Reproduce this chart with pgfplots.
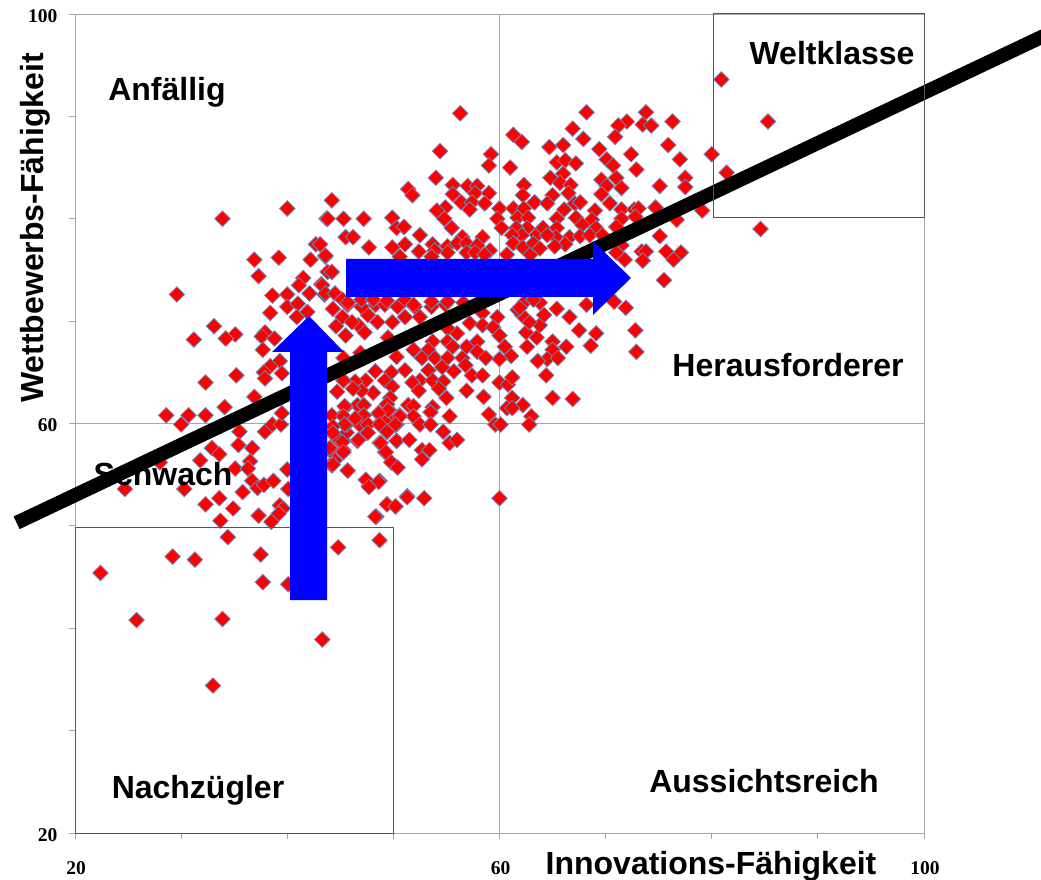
\documentclass[border=0pt]{standalone}
\usepackage{fontspec}
\setmainfont{Liberation Sans}
\newfontfamily\tickfont{Liberation Serif}
\usepackage{pgfplots}
\pgfplotsset{compat=1.18}
\usepackage{pgfplotstable}
\definecolor{axgray}{HTML}{A6A6A6}
\definecolor{boxgray}{HTML}{555555}
\definecolor{edgeblue}{HTML}{7484B8}
\pgfplotstableread{
x y
33.9 80.0
40.0 81.0
43.7 80.0
42.7 77.5
36.9 76.0
39.2 76.2
42.2 76.0
43.6 76.3
37.3 74.4
43.8 74.8
41.5 74.2
41.1 73.5
43.2 73.6
29.6 72.6
38.6 72.5
40.0 72.6
42.1 72.7
43.5 72.6
40.0 71.4
41.0 71.7
38.4 70.8
40.9 70.4
41.9 70.9
33.1 69.5
35.1 68.7
34.2 68.3
31.2 68.2
37.9 68.9
37.6 68.5
38.8 68.3
37.7 67.2
39.3 66.1
38.4 65.6
35.2 64.7
37.8 65.0
37.9 64.4
39.5 64.9
32.3 64.0
36.9 62.6
28.6 60.8
30.7 60.8
32.3 60.8
30.0 59.9
34.1 61.6
35.5 59.2
35.4 57.9
32.9 57.6
33.6 57.0
36.7 57.6
31.8 56.4
36.5 56.3
35.1 55.6
36.3 55.6
37.9 59.2
38.6 59.9
39.4 59.9
39.5 61.0
40.0 55.5
36.7 54.4
37.2 53.7
37.8 54.0
38.7 54.4
35.8 53.3
40.1 53.6
30.3 53.6
24.7 53.6
28.0 56.2
33.6 52.7
32.3 52.1
34.9 51.7
39.3 52.0
39.6 51.7
39.2 51.2
37.3 51.0
38.5 50.4
33.7 50.5
34.4 48.9
37.5 47.2
29.2 47.0
31.3 46.7
22.4 45.4
37.7 44.5
40.1 44.3
25.8 40.8
33.9 40.9
43.3 38.9
33.0 34.4
44.8 47.9
48.7 48.6
48.4 50.9
49.4 52.1
50.2 51.9
51.3 52.9
45.7 55.4
47.4 54.5
47.7 53.9
48.7 54.4
44.2 55.9
44.5 56.4
50.4 55.7
49.8 56.2
49.2 57.2
48.7 58.1
50.3 58.3
46.6 58.3
45.3 57.4
45.3 58.3
44.8 58.4
44.2 59.1
44.0 57.4
47.5 59.1
45.6 59.1
45.6 59.9
47.5 60.0
46.8 59.9
47.2 60.8
47.2 61.8
46.6 61.8
45.5 61.6
45.2 60.8
44.2 60.8
48.7 60.0
48.6 61.0
49.4 61.8
49.4 60.6
49.9 61.0
50.6 60.8
50.3 59.9
49.4 59.2
51.4 61.8
45.7 71.6
44.3 71.2
45.2 70.4
47.6 70.6
47.0 71.4
48.3 71.6
49.2 71.6
48.5 69.9
46.7 69.6
46.1 69.9
44.6 69.5
45.5 68.6
47.3 68.9
49.9 69.9
51.1 70.4
52.0 71.4
50.4 71.4
52.5 70.4
53.6 71.4
54.9 71.6
56.6 71.8
58.4 70.8
59.8 70.4
57.2 69.8
58.4 69.6
59.4 69.4
60.0 68.6
56.0 68.8
55.1 69.3
49.5 68.4
55.1 68.0
57.9 68.0
56.9 67.5
57.9 67.0
60.5 67.5
61.1 66.6
60.0 66.3
58.7 66.4
56.5 66.4
55.6 67.5
53.7 68.0
53.3 67.2
51.9 67.2
52.7 66.4
53.9 66.4
55.1 66.4
50.3 66.5
46.9 66.9
45.3 66.4
51.1 65.2
49.8 65.0
48.3 65.1
53.3 65.2
54.6 65.5
55.7 65.1
56.8 65.7
57.4 64.7
58.4 64.7
49.2 64.2
52.5 64.2
51.8 64.0
53.7 64.2
54.7 64.1
47.4 64.2
46.4 64.1
45.3 64.2
49.9 63.6
52.4 63.2
54.3 63.4
48.1 63.0
47.0 63.2
46.2 63.4
44.7 63.1
56.9 63.2
58.5 62.6
55.0 62.5
49.7 62.5
60.0 64.0
60.8 63.8
61.2 64.5
61.2 62.5
62.2 61.8
60.7 61.5
61.2 61.5
63.0 60.7
62.8 59.9
59.0 60.9
59.6 59.9
60.1 59.9
55.3 60.7
53.7 61.6
53.5 61.1
51.9 61.7
51.9 60.7
50.6 60.7
52.5 59.9
53.5 59.9
49.4 61.9
49.5 61.3
47.2 61.8
45.4 61.7
47.2 60.8
48.6 61.0
45.3 60.7
46.4 60.5
47.6 59.9
48.7 59.9
50.2 59.9
45.4 59.9
49.4 59.2
47.6 59.1
46.7 58.4
44.3 59.7
44.3 59.1
45.2 58.2
48.8 58.1
50.3 58.3
51.5 58.4
49.3 57.2
45.3 57.2
44.0 57.6
44.3 56.0
45.7 55.4
54.7 59.2
55.3 58.1
56.0 58.4
52.7 57.4
53.4 57.4
52.7 56.5
49.8 56.2
50.4 55.7
47.4 54.5
48.6 54.3
47.7 53.8
51.3 52.8
52.9 52.7
49.4 52.1
50.2 51.9
48.3 50.9
60.0 52.7
62.6 67.5
63.5 68.4
62.5 68.9
63.8 69.6
62.8 69.9
62.1 70.6
61.7 71.1
64.2 70.6
65.4 71.2
66.6 70.4
67.5 69.1
69.1 68.8
68.6 67.6
66.3 67.5
65.0 68.0
65.0 67.2
64.5 66.3
63.6 66.1
65.5 66.4
64.4 64.7
65.0 62.5
66.9 62.4
72.8 69.1
72.9 67.0
68.2 71.6
70.8 71.9
71.9 71.3
63.8 71.8
62.4 71.9
56.3 90.3
61.3 88.2
62.1 87.5
54.4 86.6
59.2 86.3
59.0 85.2
61.0 85.0
54.0 84.0
55.6 83.3
57.0 83.2
57.9 83.2
62.3 83.3
51.4 82.9
51.8 82.3
55.6 82.4
57.7 82.5
59.0 82.5
62.2 82.3
63.3 81.6
44.2 81.8
56.4 81.6
57.4 81.6
58.6 81.5
57.2 80.9
54.9 81.1
54.1 80.8
54.8 80.0
60.0 81.0
61.3 81.0
62.3 81.0
43.8 80.0
45.3 80.0
47.2 80.0
49.9 80.1
59.8 80.0
61.7 80.1
62.7 80.1
50.3 79.1
51.0 79.2
55.5 79.1
60.2 79.1
62.6 79.1
61.6 79.1
45.5 78.2
46.2 78.2
52.5 78.4
56.5 78.2
58.4 78.2
62.1 78.4
61.2 78.4
63.5 78.4
47.7 77.2
49.9 77.2
51.1 77.5
53.7 77.5
52.4 76.8
55.1 77.3
56.0 77.6
56.9 77.6
57.9 77.4
59.1 76.9
55.1 76.7
53.9 76.9
56.9 76.7
57.7 76.7
58.6 76.5
61.3 77.6
63.2 77.6
62.2 77.2
43.6 76.4
43.1 77.5
44.2 74.8
60.7 76.5
62.9 76.5
50.6 76.3
53.6 76.3
43.3 73.5
43.6 72.7
44.5 72.7
45.2 72.1
45.7 71.8
47.0 72.1
48.1 72.1
49.4 72.0
51.1 72.1
51.9 71.6
53.6 71.9
55.1 71.9
61.9 71.3
63.2 72.1
80.9 93.6
68.2 90.4
73.8 90.4
85.3 89.5
76.3 89.5
72.0 89.5
71.2 89.1
73.5 89.2
74.3 89.1
66.9 88.8
67.9 87.8
70.9 88.0
64.7 87.0
66.0 87.2
69.4 86.8
75.9 87.2
72.4 86.3
80.0 86.3
77.0 85.8
65.4 85.5
66.2 85.7
67.2 85.4
70.1 85.8
70.7 85.2
72.9 84.8
81.4 84.5
64.8 84.0
66.0 84.4
65.7 83.5
66.7 83.3
69.6 83.8
71.0 84.0
70.1 83.2
71.5 83.0
77.5 84.0
77.5 83.1
75.1 83.2
65.0 82.3
66.5 82.5
69.6 82.4
63.3 81.6
64.5 81.5
67.1 81.5
67.6 81.6
70.4 81.5
66.1 80.9
69.0 80.8
71.5 80.9
72.7 80.9
73.1 81.0
74.7 81.1
79.1 80.8
76.7 79.9
65.4 80.0
67.2 80.1
68.7 79.9
71.5 80.0
72.8 80.2
64.1 79.1
65.4 79.1
67.8 79.4
69.1 79.1
71.0 79.2
66.6 78.2
67.6 78.3
68.5 78.4
65.3 78.2
64.5 78.4
63.2 77.6
66.2 77.5
65.2 77.3
63.8 77.1
75.1 78.3
84.6 79.0
69.7 78.4
71.5 77.4
71.0 76.7
71.8 76.0
73.4 76.8
73.8 76.8
73.5 75.9
75.7 76.8
77.1 76.7
76.4 76.0
75.5 74.0
}\points
\newcommand{\lab}{\fontsize{32}{36}\selectfont\bfseries}
\begin{document}
\begin{tikzpicture}
\path[use as bounding box] (-75pt,-46pt) rectangle (966pt,833pt);
\begin{axis}[
  width=849pt, height=819pt, scale only axis,
  xmin=20, xmax=100, ymin=20, ymax=100,
  clip=false, clip mode=individual,
  xtick={20,30,40,50,60,70,80,90,100},
  xticklabels={20,,,,60,,,,100},
  ytick={20,30,40,50,60,70,80,90,100},
  yticklabels={20,,,,60,,,,100},
  tick align=outside, major tick length=6pt,
  xtick pos=bottom, ytick pos=left,
  axis line style={axgray,line width=0.9pt},
  tick style={axgray,line width=0.9pt},
  every tick label/.append style={font=\tickfont\fontsize{19.5}{21}\selectfont\bfseries,text=black},
  xticklabel style={yshift=-19pt,xshift=1pt},
  yticklabel style={xshift=-8pt,yshift=-2pt},
]
\draw[axgray,line width=1pt] (axis cs:60,20)--(axis cs:60,100);
\draw[axgray,line width=1pt] (axis cs:20,60)--(axis cs:100,60);
\addplot[only marks, mark=square*, mark size=5.5pt,
  mark options={rotate=45,fill=red,draw=edgeblue,line width=0.8pt}] table[x=x,y=y] {\points};
\node[anchor=base,inner sep=0pt] at (axis cs:28.3,53.9) {\lab Schwach};
\addplot[black,line width=14pt] coordinates {(14.5,50.3) (112.8,98.6)};
\end{axis}
\draw[boxgray,line width=1pt] (0,306pt) rectangle (318pt,0);
\draw[boxgray,line width=1pt] (638pt,615pt) rectangle (849pt,819pt);
\fill[blue] (215pt,233pt)--(252pt,233pt)--(252pt,481pt)--(269pt,481pt)--(234pt,517pt)--(197pt,481pt)--(215pt,481pt)--cycle;
\fill[blue] (271pt,574pt)--(518pt,574pt)--(518pt,592pt)--(556pt,555pt)--(518pt,518pt)--(518pt,536pt)--(271pt,536pt)--cycle;
\node[anchor=base,inner sep=0pt] at (92pt,732pt) {\lab Anfällig};
\node[anchor=base,inner sep=0pt] at (757pt,768pt) {\lab Weltklasse};
\node[anchor=base,inner sep=0pt] at (713pt,456pt) {\lab Herausforderer};
\node[anchor=base,inner sep=0pt] at (123pt,35pt) {\lab Nachzügler};
\node[anchor=base,inner sep=0pt] at (689pt,41pt) {\lab Aussichtsreich};
\node[anchor=base,inner sep=0pt] at (636pt,-41pt) {\lab Innovations-Fähigkeit};
\node[anchor=base,inner sep=0pt,rotate=90] at (-31pt,605pt) {\lab Wettbewerbs-Fähigkeit};
\end{tikzpicture}
\end{document}
